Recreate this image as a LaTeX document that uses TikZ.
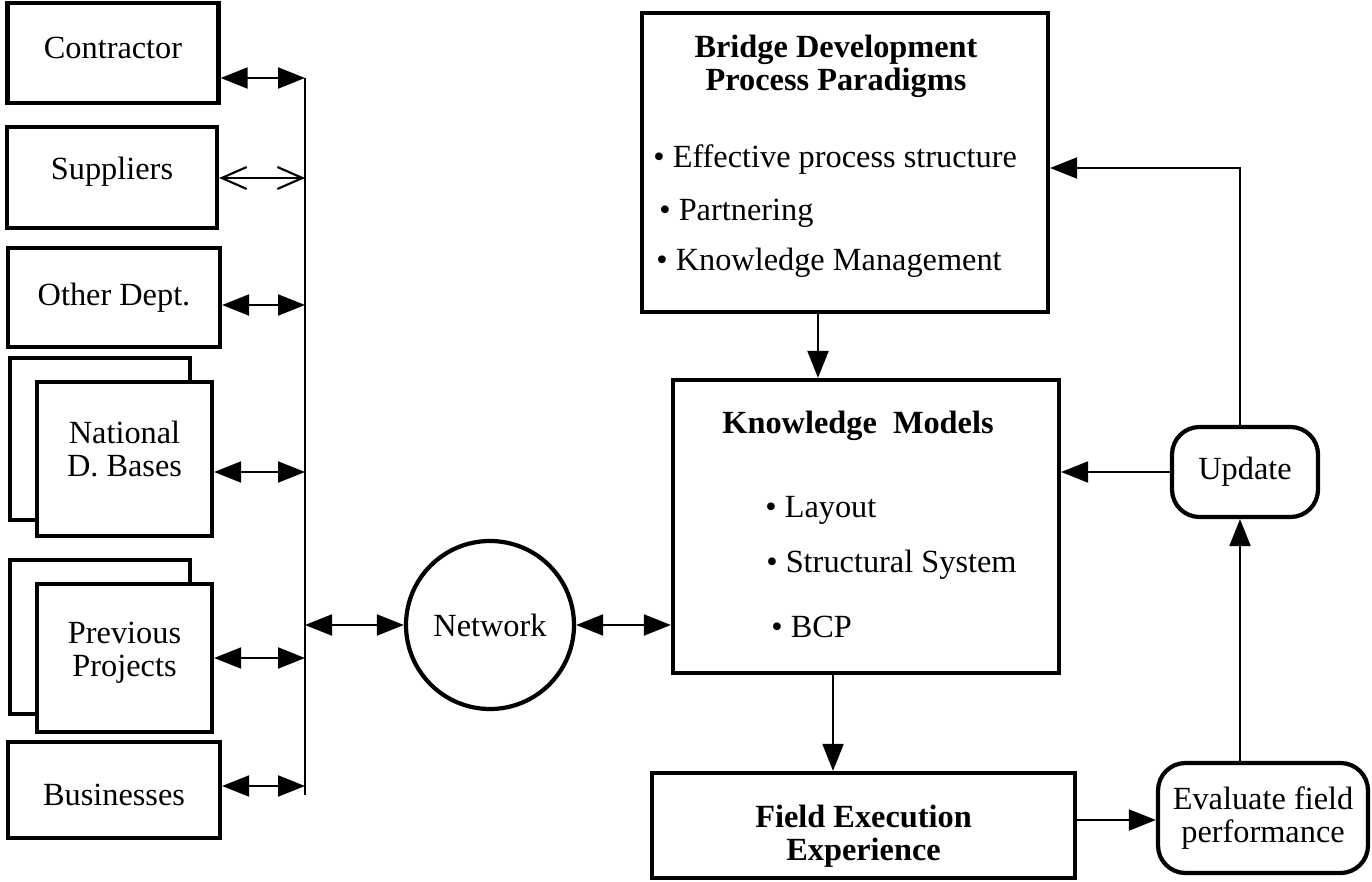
\documentclass[tikz,border=0pt]{standalone}
\usepackage{fontspec}
\setmainfont{Liberation Serif}
\usetikzlibrary{arrows.meta, positioning, calc}

\begin{document}
\begin{tikzpicture}[x=0.2mm, y=-0.2mm,
    every node/.style={font=\fontsize{18.4}{18.8}\selectfont},
    box/.style={draw, line width=2.4pt, rectangle, fill=white, align=center, inner sep=0pt},
    roundbox/.style={box, rounded corners=5.5mm},
    link/.style={line width=1.2pt},
    tip/.style={-{Triangle[length=5.4mm, width=4.2mm]}},
    twotip/.style={{Triangle[length=5.4mm, width=4.2mm]}-{Triangle[length=5.4mm, width=4.2mm]}},
    opentip/.style={{Straight Barb[length=5mm, width=4.4mm]}-{Straight Barb[length=5mm, width=4.4mm]}},
    txt/.style={anchor=west, inner sep=0pt},
    bold/.style={font=\fontsize{18.4}{18.8}\selectfont\bfseries}]

    \useasboundingbox (0,0) rectangle (1372,882);

    % Sources on the left
    \node[box, minimum width=42.2mm, minimum height=20mm] (contractor) at (113,53) {};
    \node (contractorlabel) at ([yshift=1mm]contractor.center) {Contractor};
    \node[box, minimum width=42mm, minimum height=20.2mm] (suppliers) at (112,177.5) {};
    \node (supplierslabel) at ([yshift=1.2mm]suppliers.center) {Suppliers};
    \node[box, minimum width=42.4mm, minimum height=19.8mm] (otherdept) at (114,297.5) {Other Dept.};
    \node[box, minimum width=36mm, minimum height=32.4mm] (natback) at (100,439) {};
    \node[box, minimum width=35mm, minimum height=30.8mm] (natfront) at (124.5,459) {};
    \node[align=center] (natlabel) at ([yshift=2mm]natfront.center) {National\\D. Bases};
    \node[box, minimum width=36mm, minimum height=30.8mm] (prevback) at (100,637) {};
    \node[box, minimum width=35mm, minimum height=29.6mm] (prevfront) at (124.5,658) {};
    \node[align=center] (prevlabel) at ([yshift=1mm]prevfront.center) {Previous\\Projects};
    \node[box, minimum width=42.4mm, minimum height=19.2mm] (businesses) at (114,790) {};
    \node (businesslabel) at ([yshift=-1mm]businesses.center) {Businesses};

    % Bus line
    \coordinate (bustop) at (305,78);
    \coordinate (busbot) at (305,795);
    \draw[link] (bustop) -- (busbot);
    \foreach \src/\y in {contractor/78, otherdept/305, natfront/472, prevfront/658, businesses/786} {
        \coordinate (b-\src) at (305,\y);
        \draw[link, twotip] (b-\src -| \src.east) -- (b-\src);
    }
    \coordinate (b-suppliers) at (305,178);
    \draw[link, opentip] (b-suppliers -| suppliers.east) -- (b-suppliers);

    % Network
    \node[draw, circle, line width=2.4pt, minimum size=33.6mm, inner sep=0pt] (network) at (490,625) {Network};
    \coordinate (b-network) at (305,625);
    \draw[link, twotip] (b-network) -- (network.west);

    % Paradigms
    \node[box, minimum width=81.2mm, minimum height=59.8mm] (bdpp) at (845,162.5) {};
    \node[align=center, bold] (bdpptitle) at (836,66) {Bridge Development\\Process Paradigms};
    \node[txt] (bdppa) at (653,160) {\textbullet\ Effective process structure};
    \node[txt] (bdppb) at (659,213) {\textbullet\ Partnering};
    \node[txt] (bdppc) at (656,263) {\textbullet\ Knowledge Management};

    % Knowledge models
    \node[box, minimum width=77.2mm, minimum height=58.6mm] (km) at (866,526.5) {};
    \node[bold] (kmtitle) at (858,426) {Knowledge\ \ Models};
    \node[txt] (kma) at (765,510) {\textbullet\ Layout};
    \node[txt] (kmb) at (766,565) {\textbullet\ Structural System};
    \node[txt] (kmc) at (771,627) {\textbullet\ BCP};

    % Field and feedback
    \node[box, minimum width=84.6mm, minimum height=21mm] (field) at (863.5,825.5) {};
    \node[align=center, bold] (fieldlabel) at ([yshift=-2.2mm]field.center) {Field Execution\\Experience};
    \node[roundbox, minimum width=42mm, minimum height=22mm] (evaluate) at (1263,818) {Evaluate field\\performance};
    \node[roundbox, minimum width=29.2mm, minimum height=18mm] (update) at (1245,472) {Update};

    % Flow
    \draw[link, twotip] (network.east) -- (network.east -| km.west);
    \coordinate (xa) at (818,0);
    \draw[link, tip] (bdpp.south -| xa) -- (km.north -| xa);
    \coordinate (xb) at (833,0);
    \draw[link, tip] (km.south -| xb) -- (field.north -| xb);
    \coordinate (ye) at (0,820);
    \draw[link, tip] (field.east |- ye) -- (evaluate.west |- ye);
    \coordinate (xu) at (1240,0);
    \draw[link, tip] (evaluate.north -| xu) -- (update.south -| xu);
    \draw[link, tip] (update.west) -- (update.west -| km.east);
    \coordinate (corner) at (1240,168);
    \draw[link, tip] (update.north -| xu) -- (corner) -- (corner -| bdpp.east);
\end{tikzpicture}
\end{document}
